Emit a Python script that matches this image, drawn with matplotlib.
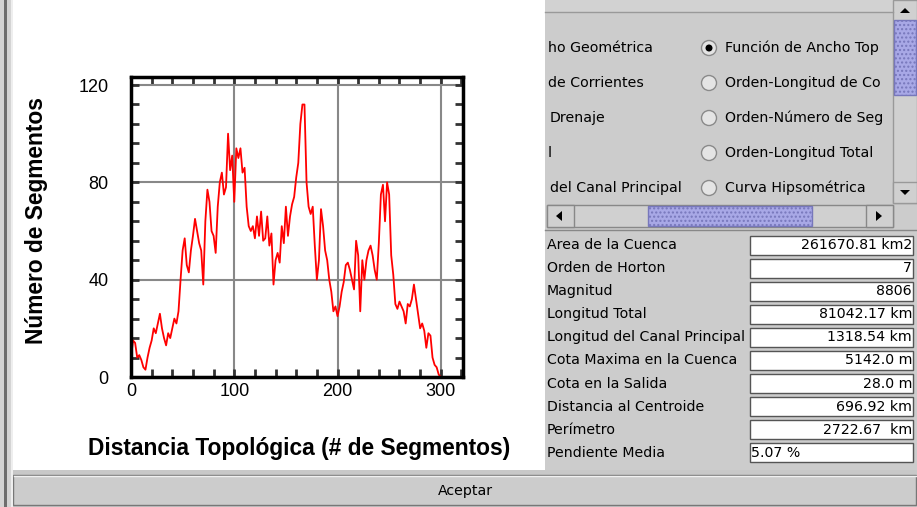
import matplotlib
matplotlib.use('Agg')
import matplotlib.pyplot as plt
from matplotlib.patches import Rectangle, Circle, Polygon
from matplotlib.ticker import MultipleLocator

# ---------------- data ----------------
distance = list(range(0, 301, 2))
segments = [8, 15, 14, 8, 9, 7, 4, 3, 8, 12,
            15, 20, 18, 22, 26, 20, 16, 13, 18, 16,
            20, 24, 22, 27, 40, 52, 57, 46, 43, 52,
            58, 65, 60, 55, 52, 38, 64, 77, 72, 60,
            58, 51, 70, 80, 84, 75, 78, 100, 85, 91,
            72, 94, 90, 94, 84, 86, 70, 62, 60, 62,
            57, 66, 58, 68, 56, 57, 66, 54, 59, 38,
            48, 51, 47, 62, 55, 70, 58, 66, 71, 74,
            82, 88, 104, 112, 112, 80, 70, 67, 70, 54,
            40, 48, 69, 62, 52, 48, 40, 35, 27, 29,
            25, 29, 35, 39, 46, 47, 44, 40, 36, 56,
            50, 27, 48, 40, 48, 52, 54, 50, 44, 40,
            55, 75, 79, 64, 80, 75, 50, 42, 30, 28,
            31, 29, 27, 22, 30, 29, 32, 38, 32, 26,
            20, 22, 19, 12, 18, 17, 8, 5, 4, 1, 0]

x_ticks = [0, 100, 200, 300]
y_ticks = [0, 40, 80, 120]
x_label = "Distancia Topológica (# de Segmentos)"
y_label = "Número de Segmentos"

radio_left = ["ho Geométrica", "de Corrientes", "Drenaje", "l", "del Canal Principal"]
radio_right = ["Función de Ancho Top", "Orden-Longitud de Co",
               "Orden-Número de Seg", "Orden-Longitud Total", "Curva Hipsométrica"]
field_labels = ["Area de la Cuenca", "Orden de Horton", "Magnitud", "Longitud Total",
                "Longitud del Canal Principal", "Cota Maxima en la Cuenca",
                "Cota en la Salida", "Distancia al Centroide", "Perímetro", "Pendiente Media"]
field_values = ["261670.81 km2", "7", "8806", "81042.17 km", "1318.54 km", "5142.0 m",
                "28.0 m", "696.92 km", "2722.67  km", "5.07 %"]

# ---------------- figure ----------------
W, H = 917, 507
fig = plt.figure(figsize=(W / 100, H / 100), dpi=100)
GRAY = '#cccccc'
GUI_FONT = ['DejaVu Sans']
CHART_FONT = ['Liberation Sans', 'DejaVu Sans']
GFS = 10.2


def fig_rect(x0, y0, x1, y1):
    return [x0 / W, 1 - y1 / H, (x1 - x0) / W, (y1 - y0) / H]


bg = fig.add_axes([0, 0, 1, 1])
bg.set_xlim(0, W)
bg.set_ylim(H, 0)
bg.axis('off')

# white plotting panel
bg.add_patch(Rectangle((13, 0), 532, 470, facecolor='white', edgecolor='none'))
# right panel
bg.add_patch(Rectangle((545, 0), W - 545, 470, facecolor=GRAY, edgecolor='none'))
bg.add_patch(Rectangle((545, 0), 348, 12, facecolor='#d2d2d2', edgecolor='none'))
bg.plot([545, 893], [12, 12], color='#999999', lw=1)
# vertical scrollbar
bg.add_patch(Rectangle((893, 0), 24, 203, facecolor='#d0d0d0', edgecolor='#999999', lw=1))
bg.add_patch(Rectangle((894, 20), 22, 75, facecolor='#a8a8e6', edgecolor='#7777bb', lw=1, hatch='....'))
bg.add_patch(Polygon([[900, 13], [910, 13], [905, 8]], closed=True, facecolor='black'))
bg.add_patch(Rectangle((893, 182), 24, 21, facecolor='#d0d0d0', edgecolor='#999999', lw=1))
bg.add_patch(Polygon([[900, 190], [910, 190], [905, 195]], closed=True, facecolor='black'))
# horizontal scrollbar
bg.add_patch(Rectangle((547, 205), 346, 22, facecolor='#d0d0d0', edgecolor='#888888', lw=1))
bg.add_patch(Rectangle((547, 205), 27, 22, facecolor='#d0d0d0', edgecolor='#888888', lw=1))
bg.add_patch(Polygon([[556, 216], [562, 211], [562, 221]], closed=True, facecolor='black'))
bg.add_patch(Rectangle((866, 205), 27, 22, facecolor='#d0d0d0', edgecolor='#888888', lw=1))
bg.add_patch(Polygon([[882, 216], [876, 211], [876, 221]], closed=True, facecolor='black'))
bg.add_patch(Rectangle((648, 206), 164, 20, facecolor='#a8a8e6', edgecolor='#7777bb', lw=1, hatch='....'))
bg.plot([545, 917], [230, 230], color='#888888', lw=1)

# radio list
row_y = [48, 83, 118, 153, 188]
left_x = [548, 548, 550, 548, 550]
for i, (ty, ltxt, rtxt) in enumerate(zip(row_y, radio_left, radio_right)):
    bg.text(left_x[i], ty, ltxt, fontsize=GFS, family=GUI_FONT, va='center', ha='left')
    bg.add_patch(Circle((709, ty), 7.5, facecolor='#e4e4e4', edgecolor='#8a8a8a', lw=1))
    if i == 0:
        bg.add_patch(Circle((709, ty), 3.5, facecolor='black', edgecolor='none'))
    bg.text(725, ty, rtxt, fontsize=GFS, family=GUI_FONT, va='center', ha='left')

# property fields
fy0, fdy = 245, 23.1
for i, (lab, val) in enumerate(zip(field_labels, field_values)):
    yy = fy0 + i * fdy
    bg.text(547, yy, lab, fontsize=GFS, family=GUI_FONT, va='center', ha='left')
    bg.add_patch(Rectangle((750, yy - 9.5), 163, 19, facecolor='white', edgecolor='#555555', lw=1))
    if i == len(field_labels) - 1:
        bg.text(751, yy, val, fontsize=GFS, family=GUI_FONT, va='center', ha='left')
    else:
        bg.text(912, yy, val, fontsize=GFS, family=GUI_FONT, va='center', ha='right')

# bottom button
bg.add_patch(Rectangle((0, 470), W, H - 470, facecolor='#c8c8c8', edgecolor='none'))
bg.add_patch(Rectangle((13, 475), W - 14, H - 477, facecolor='#cccccc', edgecolor='#777777', lw=1))
bg.plot([14, W], [476, 476], color='#f0f0f0', lw=1)
bg.text(465, 491, "Aceptar", fontsize=GFS, family=GUI_FONT, va='center', ha='center')
# left border strip
bg.add_patch(Rectangle((0, 0), 13, H, facecolor='#d4d4d4', edgecolor='none'))
bg.add_patch(Rectangle((4, 0), 3, H, facecolor='#6e6e6e', edgecolor='none'))
bg.add_patch(Rectangle((11, 0), 2, H, facecolor='#eeeeee', edgecolor='none'))

# ---------------- chart ----------------
ax = fig.add_axes(fig_rect(131, 77, 463.5, 377))
ax.plot(distance, segments, color='red', lw=1.3)
ax.set_xlim(0, 322)
ax.set_ylim(0, 123.3)
ax.set_xticks(x_ticks)
ax.set_yticks(y_ticks)
ax.xaxis.set_minor_locator(MultipleLocator(20))
ax.yaxis.set_minor_locator(MultipleLocator(8))
ax.grid(True, which='major', color='#888888', lw=1.5)
ax.set_axisbelow(True)
for sp in ax.spines.values():
    sp.set_linewidth(2.5)
    sp.set_color('black')
ax.tick_params(which='both', direction='in', top=True, right=True, color='#333333')
ax.tick_params(which='major', length=6, width=2, labelsize=13)
ax.tick_params(which='minor', length=6, width=2)
ax.tick_params(axis='y', which='major', pad=16)
ax.tick_params(axis='x', which='major', pad=4)
for lab in ax.get_xticklabels() + ax.get_yticklabels():
    lab.set_family(CHART_FONT)
ax.set_xlabel(x_label, fontsize=16.4, family=CHART_FONT, fontweight='bold', va='center', ha='center')
ax.set_ylabel(y_label, fontsize=16.4, family=CHART_FONT, fontweight='bold', va='center', ha='center')
ax.xaxis.set_label_coords(0.505, -0.24)
ax.yaxis.set_label_coords(-0.283, 0.523)

fig.savefig('out.png', dpi=100)
